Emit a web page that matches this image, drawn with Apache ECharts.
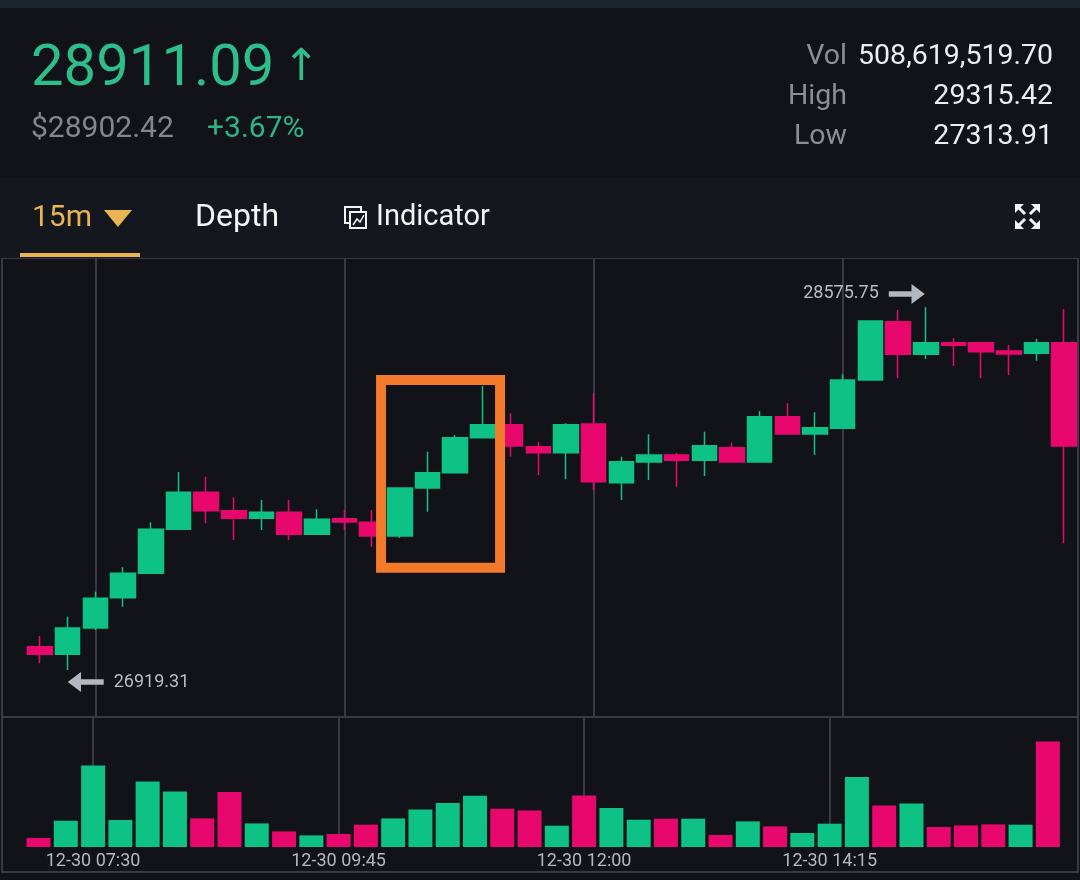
<!DOCTYPE html>
<html>
<head>
<meta charset="utf-8">
<style>
html, body { margin: 0; padding: 0; background: #121319; }
#main { width: 1080px; height: 880px; }
</style>
<script src="https://cdn.jsdelivr.net/npm/echarts@6/dist/echarts.min.js"></script>
</head>
<body>
<div id="main"></div>
<script>
// 15m candles, 12-30 07:00 .. 16:15
const times = [
    '12-30 07:00', '12-30 07:15', '12-30 07:30', '12-30 07:45', '12-30 08:00', '12-30 08:15',
    '12-30 08:30', '12-30 08:45', '12-30 09:00', '12-30 09:15', '12-30 09:30', '12-30 09:45',
    '12-30 10:00', '12-30 10:15', '12-30 10:30', '12-30 10:45', '12-30 11:00', '12-30 11:15',
    '12-30 11:30', '12-30 11:45', '12-30 12:00', '12-30 12:15', '12-30 12:30', '12-30 12:45',
    '12-30 13:00', '12-30 13:15', '12-30 13:30', '12-30 13:45', '12-30 14:00', '12-30 14:15',
    '12-30 14:30', '12-30 14:45', '12-30 15:00', '12-30 15:15', '12-30 15:30', '12-30 15:45',
    '12-30 16:00', '12-30 16:15'
]
const tickTimes = ['12-30 07:30', '12-30 09:45', '12-30 12:00', '12-30 14:15']

const open = [27025.6, 26990.9, 27111.0, 27249.2, 27360.6, 27561.3, 27730.2, 27646.2, 27611.5, 27638.9,
    27538.5, 27609.7, 27593.3, 27530.8, 27749.8, 27819.6, 27979.3, 28038.6, 27938.3, 27910.9,
    28041.9, 27774.0, 27868.5, 27900.4, 27876.2, 27933.7, 27868.5, 28075.2, 27996.2, 28022.2,
    28242.6, 28508.7, 28359.9, 28412.8, 28412.8, 28375.0, 28364.5, 28412.8]
const close = [26990.9, 27110.9, 27246.5, 27360.6, 27561.3, 27730.2, 27646.2, 27611.5, 27638.9, 27538.5,
    27607.0, 27594.7, 27530.8, 27749.8, 27819.6, 27979.3, 28038.6, 27941.5, 27910.9, 28038.6,
    27778.6, 27869.8, 27900.4, 27876.2, 27942.8, 27868.5, 28075.2, 27996.2, 28025.0, 28242.6,
    28511.9, 28359.9, 28412.8, 28401.0, 28371.8, 28361.3, 28412.8, 27941.5]
const low = [26951.2, 26919.31, 27101.8, 27208.2, 27358.0, 27558.0, 27588.7, 27512.5, 27558.2, 27512.5,
    27536.0, 27558.2, 27481.9, 27521.6, 27641.6, 27818.0, 27977.0, 27892.6, 27809.1, 27789.5,
    27740.7, 27695.0, 27786.3, 27755.7, 27804.6, 27866.0, 27866.0, 27994.0, 27900.4, 28020.0,
    28241.0, 28250.4, 28338.5, 28306.5, 28250.4, 28265.5, 28330.7, 27497.5]
const high = [27074.4, 27162.5, 27276.6, 27388.0, 27593.3, 27822.8, 27801.4, 27707.4, 27695.0, 27695.0,
    27652.6, 27649.4, 27649.4, 27752.0, 27915.4, 27991.6, 28215.3, 28090.7, 27961.1, 28045.1,
    28181.9, 27892.6, 27994.9, 27910.9, 28006.7, 27956.5, 28101.2, 28136.3, 28095.2, 28268.6,
    28513.0, 28562.0, 28575.75, 28432.9, 28416.0, 28402.4, 28429.7, 28565.3]
const volume = [90, 263, 816, 270, 656, 556, 286, 550, 236, 156,
    116, 130, 223, 286, 376, 440, 513, 383, 366, 213,
    516, 390, 273, 283, 283, 120, 256, 206, 140, 233,
    700, 416, 436, 200, 216, 226, 223, 1056]

// highlighted range (orange box), in bar-index / price units
const boxX = [12.32, 16.62]
const boxY = [27386.1, 28242.6]

// header
const lastPrice = '28911.09'
const usdPrice = '$28902.42'
const change = '+3.67%'
const stats = [['Vol', '508,619,519.70'], ['High', '29315.42'], ['Low', '27313.91']]

const UP = '#0ec184'
const DOWN = '#e8086d'
const GRID_LINE = '#383b43'
const FONT = 'Roboto, "DejaVu Sans", sans-serif'

const kdata = open.map((o, i) => [o, close[i], low[i], high[i]])
const vdata = volume.map((v, i) => ({
    value: v,
    itemStyle: { color: close[i] >= open[i] ? UP : DOWN }
}))

let hi = 0, lo = 0
high.forEach((h, i) => { if (h > high[hi]) hi = i })
low.forEach((l, i) => { if (l < low[lo]) lo = i })

const vlines = tickTimes.map(t => ({ xAxis: t }))

const txt = (text, x, y, size, fill, align) => ({
    type: 'text', x: x, y: y, silent: true,
    style: { text: text, fill: fill, font: size + 'px ' + FONT, align: align || 'left', verticalAlign: 'middle' }
})

var myChart = echarts.init(document.getElementById('main'))

var option = {
    animation: false,
    backgroundColor: '#121319',
    graphic: [
        { type: 'rect', shape: { x: 0, y: 0, width: 1080, height: 8 }, style: { fill: '#1c262e' }, silent: true },
        { type: 'rect', shape: { x: 0, y: 178, width: 1080, height: 80 }, style: { fill: '#15171f' }, silent: true },
        txt(lastPrice, 31, 70, 58, '#2cbf8c'),
        txt('↑', 283, 69, 44, '#2cbf8c'),
        txt(usdPrice, 31, 129, 30, '#83868d'),
        txt(change, 207, 129, 30, '#2cb587'),
        ...stats.flatMap((s, k) => [
            txt(s[0], 847, 57 + k * 40, 28.5, '#8b8e95', 'right'),
            txt(s[1], 1053, 57 + k * 40, 28.5, '#eceef1', 'right')
        ]),
        txt('15m', 32, 218, 30, '#e9b552'),
        { type: 'polygon', shape: { points: [[104, 210], [132, 210], [118, 227]] }, style: { fill: '#e9b552' }, silent: true },
        { type: 'rect', shape: { x: 20, y: 253, width: 120, height: 4 }, style: { fill: '#e9b552' }, silent: true },
        txt('Depth', 195, 218, 32, '#f2f3f5'),
        { type: 'rect', shape: { x: 345, y: 207, width: 16, height: 16 }, style: { fill: 'none', stroke: '#f2f3f5', lineWidth: 2 }, silent: true },
        { type: 'rect', shape: { x: 350, y: 212, width: 16, height: 16 }, style: { fill: '#15171f', stroke: '#f2f3f5', lineWidth: 2 }, silent: true },
        { type: 'polyline', shape: { points: [[353, 225], [357, 219], [360, 222], [364, 215]] }, style: { stroke: '#f2f3f5', lineWidth: 1.5 }, silent: true },
        txt('Indicator', 376, 218, 29, '#f2f3f5'),
        // expand icon
        ...[[1015, 204, 1, 1], [1040, 204, -1, 1], [1015, 229, 1, -1], [1040, 229, -1, -1]].map(([x, y, dx, dy]) => ({
            type: 'group', silent: true, children: [
                { type: 'polygon', shape: { points: [[x, y], [x + 9 * dx, y], [x, y + 9 * dy]] }, style: { fill: '#f2f3f5' } },
                { type: 'line', shape: { x1: x + 3 * dx, y1: y + 3 * dy, x2: x + 10 * dx, y2: y + 10 * dy }, style: { stroke: '#f2f3f5', lineWidth: 3 } }
            ]
        })),
        // chart frame
        { type: 'rect', shape: { x: 2, y: 258, width: 1076, height: 614 }, style: { fill: 'none', stroke: GRID_LINE, lineWidth: 2 }, silent: true, z: -1 },
        { type: 'line', shape: { x1: 2, y1: 717, x2: 1078, y2: 717 }, style: { stroke: GRID_LINE, lineWidth: 2 }, silent: true, z: -1 }
    ],
    grid: [
        { left: 26.2, top: 258, width: 1051.8, height: 459 },
        { left: 24.9, top: 717, width: 1036.6, height: 130 }
    ],
    xAxis: [
        {
            type: 'category', gridIndex: 0, data: times, boundaryGap: true,
            axisLine: { show: false }, axisTick: { show: false }, axisLabel: { show: false }, splitLine: { show: false }
        },
        {
            type: 'category', gridIndex: 1, data: times, boundaryGap: true,
            axisLine: { show: false }, axisTick: { show: false }, splitLine: { show: false },
            axisLabel: {
                interval: (i, v) => tickTimes.includes(v),
                color: '#b4b7be', fontSize: 18, fontFamily: FONT, margin: 5
            }
        },
        // same bar-index space as the candles, continuous, for the box overlay
        { type: 'value', gridIndex: 0, min: -0.5, max: times.length - 0.5, show: false }
    ],
    yAxis: [
        { gridIndex: 0, min: 26705, max: 28799, show: false },
        { gridIndex: 1, min: 0, max: 1300, show: false }
    ],
    series: [
        {
            type: 'candlestick', xAxisIndex: 0, yAxisIndex: 0,
            data: kdata, barWidth: 25,
            itemStyle: { color: UP, color0: DOWN, borderColor: UP, borderColor0: DOWN, borderWidth: 1.5 },
            markLine: {
                z: 0, silent: true, symbol: ['none', 'none'], label: { show: false },
                lineStyle: { color: GRID_LINE, width: 2, type: 'solid' },
                data: vlines
            },
            markPoint: {
                silent: true,
                data: [
                    {
                        coord: [hi, high[hi]], value: high[hi].toFixed(2),
                        symbol: 'path://M0,8 L24,8 L24,0 L38,11 L24,22 L24,14 L0,14 Z',
                        symbolSize: [36, 20], symbolOffset: [-19, -13],
                        itemStyle: { color: '#b3b7c0' },
                        label: { show: true, position: 'left', distance: 10, color: '#b9bcc3', fontSize: 18, fontFamily: FONT }
                    },
                    {
                        coord: [lo, low[lo]], value: low[lo].toFixed(2),
                        symbol: 'path://M38,8 L14,8 L14,0 L0,11 L14,22 L14,14 L38,14 Z',
                        symbolSize: [36, 20], symbolOffset: [18, 12],
                        itemStyle: { color: '#b3b7c0' },
                        label: { show: true, position: 'right', distance: 10, color: '#b9bcc3', fontSize: 18, fontFamily: FONT }
                    }
                ]
            }
        },
        {
            type: 'line', xAxisIndex: 2, yAxisIndex: 0, data: [], silent: true,
            markArea: {
                z: 5, silent: true,
                itemStyle: { color: 'rgba(0,0,0,0)', borderColor: '#f47a2b', borderWidth: 10 },
                data: [[{ coord: [boxX[0], boxY[1]] }, { coord: [boxX[1], boxY[0]] }]]
            }
        },
        {
            type: 'bar', xAxisIndex: 1, yAxisIndex: 1,
            data: vdata, barWidth: 24,
            markLine: {
                z: 0, silent: true, symbol: ['none', 'none'], label: { show: false },
                lineStyle: { color: GRID_LINE, width: 2, type: 'solid' },
                data: vlines
            }
        }
    ]
}

myChart.setOption(option)
</script>
</body>
</html>
